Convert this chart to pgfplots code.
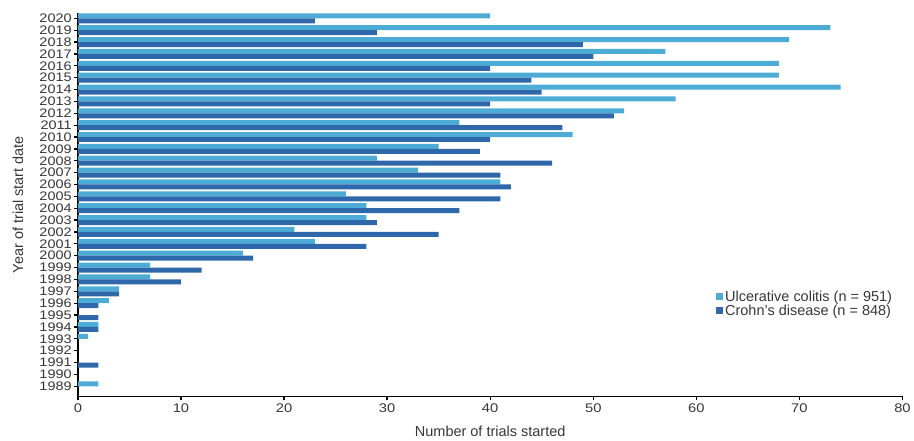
\documentclass[border=0pt]{standalone}
\usepackage{pgfplots}
\pgfplotsset{compat=1.18}
\usepackage{fontspec}
\setmainfont{Liberation Sans}
\newfontfamily\tickfont{Liberation Sans}[FakeStretch=1.17]
\definecolor{uc}{RGB}{77,172,214}
\definecolor{cd}{RGB}{46,104,170}
\definecolor{txt}{RGB}{55,55,55}
\begin{document}
\begin{tikzpicture}
\begin{axis}[
  scale only axis,
  width=826pt, height=384pt,
  xbar, bar width=5pt,
  xmin=0, xmax=80, ymin=1988.15, ymax=2020.45,
  xtick={0,10,...,80},
  ytick={1989,...,2020},
  yticklabel style={/pgf/number format/1000 sep={}, font=\tickfont\fontsize{12.4}{12.4}\selectfont, text=txt, inner sep=0pt, xshift=-2pt},
  xticklabel style={font=\tickfont\fontsize{12.6}{12.6}\selectfont, text=txt},
  /pgf/number format/assume math mode=true,
  axis x line*=bottom, axis y line*=left,
  axis line style={line width=1.3pt, -},
  tick style={line width=1.3pt, black},
  tick align=outside, major tick length=4pt,
  xlabel={Number of trials started},
  ylabel={Year of trial start date},
  xlabel style={font=\fontsize{14.5}{14.5}\selectfont, text=txt, at={(axis description cs:0.5,-0.0911)}, anchor=center},
  ylabel style={font=\fontsize{14.5}{14.5}\selectfont, text=txt, at={(axis description cs:-0.0726,0.5)}, anchor=center},
  legend style={at={(axis cs:79.3,1997.3)}, anchor=north east, draw=none, fill=none,
    font=\fontsize{14.5}{14.5}\selectfont, text=txt, row sep=-2pt, inner sep=1pt},
  legend cell align=left,
  legend image code/.code={\fill[#1] (0pt,-3.5pt) rectangle (7pt,3.5pt);},
  clip=false,
]
\addplot[fill=uc, draw=none, bar shift=2.5pt] coordinates {
(40,2020) (73,2019) (69,2018) (57,2017) (68,2016) (68,2015) (74,2014) (58,2013)
(53,2012) (37,2011) (48,2010) (35,2009) (29,2008) (33,2007) (41,2006) (26,2005)
(28,2004) (28,2003) (21,2002) (23,2001) (16,2000) (7,1999) (7,1998) (4,1997)
(3,1996) (2,1994) (1,1993) (2,1989)};
\addlegendentry{Ulcerative colitis (n = 951)}
\addplot[fill=cd, draw=none, bar shift=-2.5pt] coordinates {
(23,2020) (29,2019) (49,2018) (50,2017) (40,2016) (44,2015) (45,2014) (40,2013)
(52,2012) (47,2011) (40,2010) (39,2009) (46,2008) (41,2007) (42,2006) (41,2005)
(37,2004) (29,2003) (35,2002) (28,2001) (17,2000) (12,1999) (10,1998) (4,1997)
(2,1996) (2,1995) (2,1994) (2,1991)};
\addlegendentry{Crohn's disease (n = 848)}
\end{axis}
\path (current axis.south west) ++(-78pt,-44pt) coordinate (bl);
\path (current axis.north east) ++(10pt,13pt) coordinate (tr);
\path (bl) rectangle (tr);
\end{tikzpicture}
\end{document}
